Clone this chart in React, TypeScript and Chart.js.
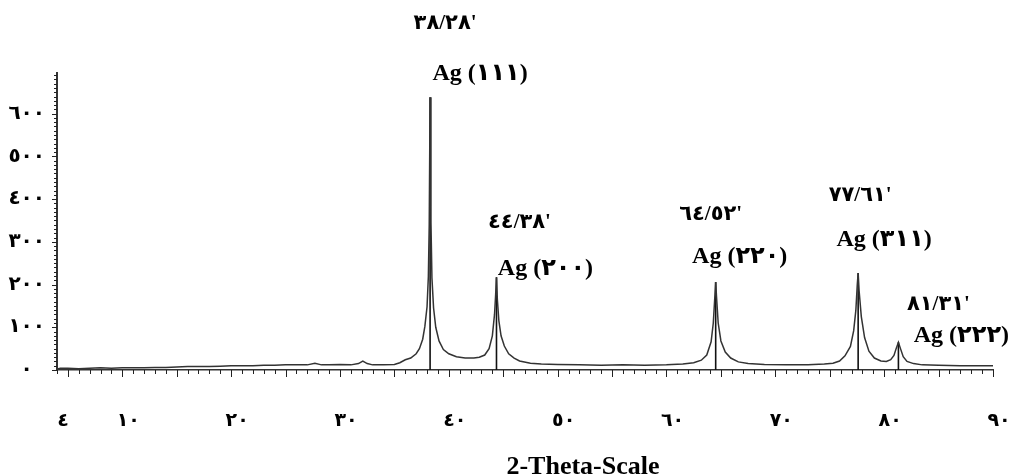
import React, { useEffect, useRef } from "react";
import { Chart, registerables } from "chart.js";

Chart.register(...registerables);

// 2-theta positions (degrees) and measured intensity of the XRD trace
const twoTheta = [
  4.0, 4.3, 5, 6, 7, 8, 9, 10, 11, 12, 13, 14, 15, 16, 17, 18, 19, 20, 21, 22,
  23, 24, 25, 26, 27, 27.7, 28.3, 29, 30, 31, 31.7, 32.1, 32.5, 33, 34, 35,
  35.5, 36.0, 36.5, 37.0, 37.3, 37.6, 37.8, 38.0, 38.12, 38.2, 38.28, 38.36,
  38.45, 38.6, 38.8, 39.1, 39.5, 40.0, 40.7, 41.5, 42.3, 42.8, 43.3, 43.7,
  44.0, 44.2, 44.3, 44.38, 44.46, 44.6, 44.8, 45.1, 45.5, 46.0, 46.5, 47.5,
  48.5, 50, 52, 54, 56, 58, 60, 61.5, 62.5, 63.2, 63.7, 64.1, 64.3, 64.45,
  64.52, 64.6, 64.75, 65.0, 65.4, 65.9, 66.6, 67.5, 69, 71, 73, 74.5, 75.3,
  75.9, 76.4, 76.9, 77.2, 77.4, 77.53, 77.61, 77.7, 77.9, 78.2, 78.6, 79.1,
  79.7, 80.2, 80.6, 80.9, 81.1, 81.31, 81.5, 81.75, 82.1, 82.7, 83.5, 85, 87,
  88.5, 90,
];
const intensity = [
  2, 4, 4, 3, 4, 5, 4, 5, 5, 5, 6, 6, 7, 8, 8, 8, 9, 10, 10, 10,
  11, 11, 12, 12, 12, 16, 12, 12, 13, 12, 15, 21, 15, 12, 12, 13,
  17, 24, 28, 38, 50, 72, 102, 148, 218, 340, 638, 345,
  215, 145, 100, 68, 48, 38, 31, 28, 28, 30, 35, 50,
  80, 130, 175, 217, 165, 115, 80, 56, 38, 28, 21, 16,
  14, 13, 12, 11, 12, 11, 12, 14, 17, 23, 35, 66, 110, 175,
  206, 170, 110, 68, 42, 28, 19, 15, 13, 12, 12, 14, 16,
  21, 33, 55, 92, 140, 200, 227, 185, 125, 76, 44, 28,
  21, 20, 24, 34, 50, 65, 50, 31, 20, 15, 12, 11, 10,
  10, 10,
];

// Indexed reflections
const peakPositions = [38.28, 44.38, 64.52, 77.61, 81.31];
const peakHeights = [638, 217, 206, 227, 65];
const peakAngleLabels = ["٣٨/٢٨'", "٤٤/٣٨'", "٦٤/٥٢'", "٧٧/٦١'", "٨١/٣١'"];
const peakHklLabels = ["Ag (١١١)", "Ag (٢٠٠)", "Ag (٢٢٠)", "Ag (٣١١)", "Ag (٢٢٢)"];

// Axis ticks
const xTickValues = [4, 10, 20, 30, 40, 50, 60, 70, 80, 90];
const xTickLabels = ["٤", "١٠", "٢٠", "٣٠", "٤٠", "٥٠", "٦٠", "٧٠", "٨٠", "٩٠"];
const yTickValues = [0, 100, 200, 300, 400, 500, 600];
const yTickLabels = ["٠", "١٠٠", "٢٠٠", "٣٠٠", "٤٠٠", "٥٠٠", "٦٠٠"];
const xAxisTitle = "2-Theta-Scale";

// Layout of the annotation texts relative to each peak tip (pixels)
const angleLabelOffsets = [[15, -74], [23, -55], [-5, -67], [2, -77], [40, -38]];
const hklLabelOffsets = [[50, -24], [49, -8], [24, -25], [26, -33], [63, -6]];

const FONT_FAMILY = "'Liberation Serif', 'DejaVu Serif', 'DejaVu Sans', serif";

const decorPlugin = {
  id: "xrdDecor",
  afterDraw(chart: any) {
    const { ctx, chartArea } = chart;
    const x = chart.scales.x;
    const y = chart.scales.y;
    ctx.save();
    // minor tick marks
    ctx.strokeStyle = "#222";
    ctx.lineWidth = 1;
    ctx.beginPath();
    for (let d = Math.ceil(x.min); d <= x.max; d++) {
      const px = Math.round(x.getPixelForValue(d)) + 0.5;
      const len = d % 5 === 0 ? 7 : 4;
      ctx.moveTo(px, chartArea.bottom);
      ctx.lineTo(px, chartArea.bottom + len);
    }
    for (let v = 0; v <= y.max; v += 10) {
      const py = Math.round(y.getPixelForValue(v)) + 0.5;
      const len = v % 100 === 0 ? 5 : 3;
      ctx.moveTo(chartArea.left, py);
      ctx.lineTo(chartArea.left - len, py);
    }
    ctx.stroke();

    // peak annotations
    ctx.fillStyle = "#000";
    ctx.textAlign = "center";
    ctx.textBaseline = "middle";
    peakPositions.forEach((p, i) => {
      const px = x.getPixelForValue(p);
      const py = y.getPixelForValue(peakHeights[i]);
      ctx.font = `bold 21px ${FONT_FAMILY}`;
      ctx.fillText(peakAngleLabels[i], px + angleLabelOffsets[i][0], py + angleLabelOffsets[i][1]);
      ctx.font = `bold 24px ${FONT_FAMILY}`;
      ctx.fillText(peakHklLabels[i], px + hklLabelOffsets[i][0], py + hklLabelOffsets[i][1]);
    });

    // axis title
    ctx.font = `bold 26px ${FONT_FAMILY}`;
    ctx.fillText(xAxisTitle, chartArea.left + 526, chartArea.bottom + 97);
    ctx.restore();
  },
};

export default function App() {
  const canvasRef = useRef<HTMLCanvasElement | null>(null);

  useEffect(() => {
    if (!canvasRef.current) return;
    const trace = twoTheta.map((t, i) => ({ x: t, y: intensity[i] }));
    const sticks: any[] = [];
    peakPositions.forEach((p, i) => {
      sticks.push({ x: p, y: 0 }, { x: p, y: peakHeights[i] }, { x: p, y: null });
    });

    const chart = new Chart(canvasRef.current, {
      type: "line",
      data: {
        datasets: [
          {
            data: trace,
            borderColor: "#333",
            borderWidth: 1.5,
            pointRadius: 0,
            tension: 0,
            fill: false,
          },
          {
            data: sticks,
            borderColor: "#111",
            borderWidth: 1.6,
            pointRadius: 0,
            spanGaps: false,
            fill: false,
          },
        ],
      },
      options: {
        animation: false,
        responsive: true,
        maintainAspectRatio: false,
        layout: { padding: { top: 73, right: 18, left: 0, bottom: 0 } },
        plugins: {
          legend: { display: false },
          tooltip: { enabled: false },
          title: { display: false },
        },
        scales: {
          x: {
            type: "linear",
            min: 4,
            max: 90,
            grid: { display: false },
            border: { display: true, color: "#333", width: 1.5 },
            afterBuildTicks: (scale: any) => {
              scale.ticks = xTickValues.map((v) => ({ value: v }));
            },
            afterFit: (scale: any) => {
              scale.height = 105;
              scale.paddingLeft = 0;
              scale.paddingRight = 0;
            },
            ticks: {
              autoSkip: false,
              maxRotation: 0,
              padding: 32,
              labelOffset: 6,
              color: "#000",
              font: { family: FONT_FAMILY, size: 19, weight: "bold" },
              callback: (v: any) => {
                const idx = xTickValues.indexOf(Number(v));
                return idx >= 0 ? xTickLabels[idx] : "";
              },
            },
          },
          y: {
            type: "linear",
            min: 0,
            max: 695,
            grid: { display: false },
            border: { display: true, color: "#333", width: 2 },
            afterBuildTicks: (scale: any) => {
              scale.ticks = yTickValues.map((v) => ({ value: v }));
            },
            afterFit: (scale: any) => {
              scale.width = 57;
            },
            ticks: {
              autoSkip: false,
              padding: 4,
              crossAlign: "center",
              color: "#000",
              font: { family: FONT_FAMILY, size: 20, weight: "bold" },
              callback: (v: any) => {
                const idx = yTickValues.indexOf(Number(v));
                return idx >= 0 ? yTickLabels[idx] : "";
              },
            },
          },
        },
      },
      plugins: [decorPlugin],
    });
    return () => chart.destroy();
  }, []);

  return (
    <div style={{ position: "fixed", left: 0, top: 0, width: 1011, height: 475, background: "#fff" }}>
      <canvas ref={canvasRef} />
    </div>
  );
}
